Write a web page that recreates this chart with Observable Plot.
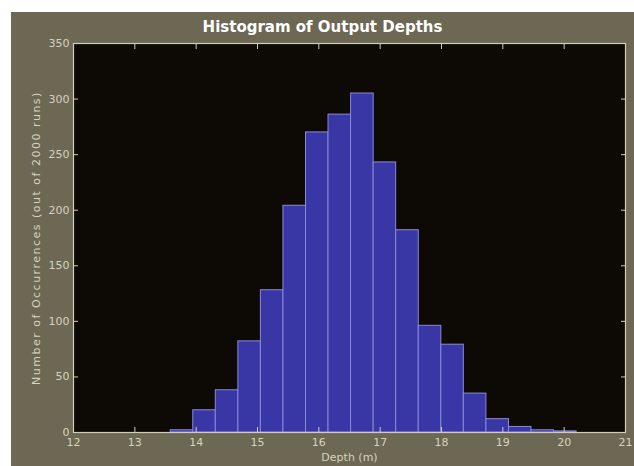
<!DOCTYPE html>
<html>
<head>
<meta charset="utf-8">
<script src="https://cdn.jsdelivr.net/npm/d3@7"></script>
<script src="https://cdn.jsdelivr.net/npm/@observablehq/plot@0.6"></script>
<style>
  html, body { margin: 0; padding: 0; background: #ffffff; }
  #fig { position: absolute; left: 11px; top: 12px; width: 623px; height: 454px; background: #6c6853; }
  #title { position: absolute; left: 0; width: 623px; top: 6px; text-align: center; color: #ffffff;
           font: bold 15px "DejaVu Sans", sans-serif; }
  #chart { position: absolute; left: 0; top: 0; }
</style>
</head>
<body>
<div id="fig">
  <div id="chart"></div>
  <div id="title">Histogram of Output Depths</div>
</div>
<script>
// Bin edges (m) and counts
const binEdges = [13.585, 13.953, 14.320, 14.688, 15.055, 15.423, 15.791, 16.158, 16.526,
                  16.894, 17.261, 17.629, 17.997, 18.364, 18.732, 19.100, 19.467, 19.835, 20.203];
const counts = [2, 20, 38, 82, 128, 204, 270, 286, 305, 243, 182, 96, 79, 35, 12, 5, 2, 1];
const xTicks = [12, 13, 14, 15, 16, 17, 18, 19, 20, 21];
const yTicks = [0, 50, 100, 150, 200, 250, 300, 350];
const xLabel = "Depth (m)";
const yLabel = "Number of Occurrences (out of 2000 runs)";

const bins = counts.map((c, i) => ({x1: binEdges[i], x2: binEdges[i + 1], count: c}));

const axisColor = "#d2cdb8";
const textColor = "#d6d2bf";
const chart = Plot.plot({
  width: 623,
  height: 454,
  marginLeft: 62,
  marginRight: 9,
  marginTop: 31,
  marginBottom: 34,
  style: {background: "transparent", color: textColor, fontFamily: "'DejaVu Sans', sans-serif", fontSize: "11px"},
  x: {domain: [12, 21]},
  y: {domain: [0, 350]},
  marks: [
    Plot.frame({fill: "#0d0905"}),
    Plot.rectY(bins, {x1: "x1", x2: "x2", y: "count", fill: "#3936a6", stroke: "#8c8ad6", strokeWidth: 1, inset: 0}),
    Plot.frame({stroke: axisColor, strokeWidth: 1.2}),
    Plot.axisX(xTicks, {anchor: "bottom", tickSize: -5, tickPadding: 11, stroke: axisColor, fill: textColor,
      label: xLabel, labelAnchor: "center", labelArrow: "none", labelOffset: 28, fontSize: 11}),
    Plot.axisX(xTicks, {anchor: "top", tickSize: -5, tickFormat: () => "", stroke: axisColor, label: null}),
    Plot.axisY(yTicks, {anchor: "left", tickSize: -5, tickPadding: 9, stroke: axisColor, fill: textColor,
      label: yLabel, labelAnchor: "center", labelArrow: "none", labelOffset: 41, fontSize: 11}),
    Plot.axisY(yTicks, {anchor: "right", tickSize: -5, tickFormat: () => "", stroke: axisColor, label: null})
  ]
});
d3.select(chart).selectAll('g[aria-label="y-axis label"] text').style("letter-spacing", "1.5px");
document.getElementById("chart").appendChild(chart);
</script>
</body>
</html>
